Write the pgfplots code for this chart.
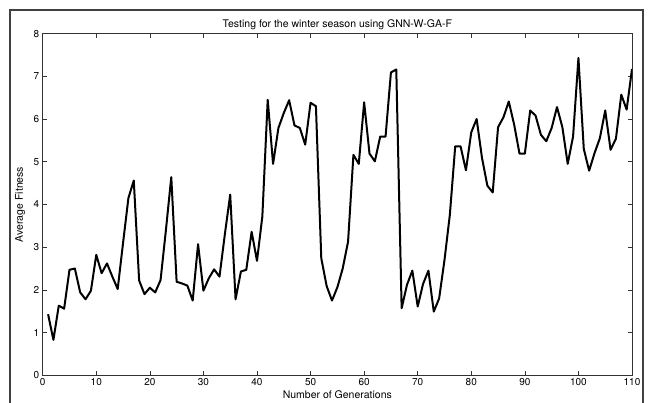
\documentclass[border=0pt]{standalone}
\usepackage{pgfplots}
\pgfplotsset{compat=1.18}
\usepackage{fontspec}
\setmainfont{TeX Gyre Heros}

\pgfplotstableread{
gen fit
1 1.43
2 0.83
3 1.63
4 1.56
5 2.47
6 2.50
7 1.94
8 1.78
9 1.98
10 2.82
11 2.39
12 2.62
13 2.31
14 2.02
15 3.10
16 4.15
17 4.56
18 2.22
19 1.90
20 2.05
21 1.94
22 2.23
23 3.40
24 4.64
25 2.19
26 2.15
27 2.10
28 1.75
29 3.07
30 1.98
31 2.27
32 2.48
33 2.31
34 3.30
35 4.23
36 1.78
37 2.43
38 2.47
39 3.36
40 2.68
41 3.72
42 6.45
43 4.95
44 5.79
45 6.14
46 6.44
47 5.85
48 5.79
49 5.40
50 6.38
51 6.30
52 2.74
53 2.09
54 1.75
55 2.06
56 2.50
57 3.13
58 5.16
59 4.95
60 6.39
61 5.19
62 5.01
63 5.59
64 5.59
65 7.09
66 7.16
67 1.57
68 2.12
69 2.45
70 1.61
71 2.14
72 2.45
73 1.49
74 1.80
75 2.70
76 3.76
77 5.36
78 5.36
79 4.80
80 5.69
81 6.00
82 5.09
83 4.44
84 4.28
85 5.81
86 6.04
87 6.41
88 5.87
89 5.19
90 5.19
91 6.20
92 6.08
93 5.63
94 5.48
95 5.79
96 6.28
97 5.81
98 4.95
99 5.59
100 7.43
101 5.30
102 4.79
103 5.20
104 5.55
105 6.20
106 5.28
107 5.54
108 6.57
109 6.22
110 7.17
}\fitness

\begin{document}
\begin{tikzpicture}
\useasboundingbox (-42.7pt,-27.7pt) rectangle (605.3pt,375.3pt);
% outer figure frame
\draw[line width=1.6pt, black!75] (-32.7pt,-27.7pt) -- (-32.7pt,365.3pt) -- (600.3pt,365.3pt) -- (600.3pt,-27.7pt);
\begin{axis}[
  at={(0pt,0pt)}, anchor=origin,
  scale only axis,
  width=589.3pt, height=341.7pt,
  xmin=0, xmax=110, ymin=0, ymax=8,
  xtick={0,10,...,110}, ytick={0,1,...,8},
  tick align=inside,
  major tick length=4.5pt,
  axis line style={black!80, line width=0.6pt},
  every tick/.style={black!80, line width=0.6pt},
  tick label style={font=\fontsize{10}{12}\selectfont},
  /pgf/number format/assume math mode=true,
  every axis title shift=0pt,
  title={Testing for the winter season using GNN-W-GA-F},
  title style={font=\fontsize{10.5}{12}\selectfont, at={(axis description cs:0.5,1)}, anchor=base, yshift=6pt},
  xlabel={Number of Generations},
  xlabel style={font=\fontsize{10.5}{12}\selectfont, at={(axis description cs:0.5,0)}, anchor=north, yshift=-12pt},
  ylabel={Average Fitness},
  ylabel style={font=\fontsize{10.5}{12}\selectfont, at={(axis description cs:0,0.5)}, anchor=south, yshift=14pt},
]
\addplot[black, line width=2pt, line join=round] table[x=gen, y=fit] {\fitness};
\end{axis}
\end{tikzpicture}
\end{document}
